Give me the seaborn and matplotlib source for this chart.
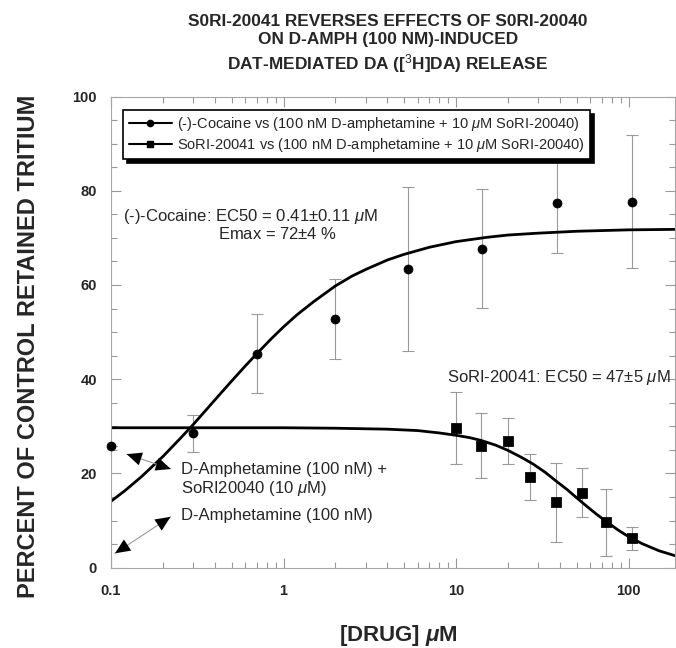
import numpy as np
import pandas as pd
import matplotlib.pyplot as plt
from matplotlib.lines import Line2D
from matplotlib.ticker import LogLocator, MultipleLocator, NullFormatter
import seaborn as sns

# Data points (uM, % of control retained tritium)
coc_x = [0.1, 0.3, 0.7, 2.0, 5.3, 14.2, 38.6, 104.9]
coc_y = [25.9, 28.5, 45.4, 52.7, 63.3, 67.7, 77.3, 77.7]
coc_err = [0.0, 4.0, 8.4, 8.5, 17.4, 12.6, 10.6, 14.2]

sori_x = [10.0, 14.0, 20.0, 27.0, 37.8, 53.7, 74.5, 104.5]
sori_y = [29.7, 25.9, 26.9, 19.3, 13.9, 15.9, 9.6, 6.2]
sori_err = [7.6, 6.9, 4.9, 4.9, 8.4, 5.2, 7.2, 2.5]

# Fitted curves
coc_fit_x = [0.1, 0.12, 0.15, 0.2, 0.25, 0.3, 0.4, 0.5, 0.6, 0.7, 0.85, 1.0, 1.2, 1.5,
             2.0, 2.5, 3.0, 4.0, 5.0, 7.0, 10, 15, 20, 30, 50, 100, 186]
coc_fit_y = [14.1, 16.3, 19.3, 23.6, 27.3, 30.4, 35.6, 39.6, 42.8, 45.4, 48.6, 51.1, 53.7, 56.5,
             59.8, 61.9, 63.3, 65.3, 66.5, 68.0, 69.2, 70.1, 70.6, 71.0, 71.4, 71.7, 71.8]

sori_fit_x = [0.1, 1, 2, 4, 6, 8, 10, 12, 14, 17, 20, 24, 28, 33, 38, 44, 50, 57, 65, 75,
              87, 100, 120, 150, 186]
sori_fit_y = [29.7, 29.7, 29.6, 29.4, 29.1, 28.6, 28.1, 27.6, 27.0, 26.0, 24.9, 23.4, 22.0,
              20.2, 18.4, 16.6, 14.85, 13.1, 11.4, 9.7, 8.0, 6.6, 5.1, 3.6, 2.55]

legend_labels = [r'(-)-Cocaine vs (100 nM D-amphetamine + 10 $\mu$M SoRI-20040)',
                 r'SoRI-20041 vs (100 nM D-amphetamine + 10 $\mu$M SoRI-20040)']
title_lines = ['S0RI-20041 REVERSES EFFECTS OF S0RI-20040',
               'ON D-AMPH (100 NM)-INDUCED',
               r'DAT-MEDIATED DA ([$^{3}$H]DA) RELEASE']

sns.set_theme(style='ticks')
plt.rcParams['font.family'] = ['Liberation Sans', 'DejaVu Sans']
plt.rcParams['mathtext.fontset'] = 'custom'
plt.rcParams['mathtext.rm'] = 'Liberation Sans'
plt.rcParams['mathtext.it'] = 'Liberation Sans:italic'
plt.rcParams['mathtext.bf'] = 'Liberation Sans:bold'
plt.rcParams['mathtext.bfit'] = 'Liberation Sans:bold:italic'

coc_fit = pd.DataFrame({'x': coc_fit_x, 'y': coc_fit_y})
sori_fit = pd.DataFrame({'x': sori_fit_x, 'y': sori_fit_y})
coc = pd.DataFrame({'x': coc_x, 'y': coc_y, 'err': coc_err})
sori = pd.DataFrame({'x': sori_x, 'y': sori_y, 'err': sori_err})

fig = plt.figure(figsize=(6.76, 6.48), dpi=100)
ax = fig.add_axes([111 / 676, 1 - 567.7 / 648, 564 / 676, 471.2 / 648])

# error bars
ax.errorbar(coc['x'], coc['y'], yerr=coc['err'], fmt='none', ecolor='0.6',
            elinewidth=0.8, capsize=4, capthick=0.8, zorder=1)
ax.errorbar(sori['x'], sori['y'], yerr=sori['err'], fmt='none', ecolor='0.6',
            elinewidth=0.8, capsize=4, capthick=0.8, zorder=1)

# fitted curves
sns.lineplot(data=coc_fit, x='x', y='y', color='black', lw=2.0, estimator=None,
             sort=False, ax=ax, zorder=2)
sns.lineplot(data=sori_fit, x='x', y='y', color='black', lw=2.0, estimator=None,
             sort=False, ax=ax, zorder=2)

# points
sns.scatterplot(data=coc, x='x', y='y', marker='o', s=42, color='black',
                edgecolor='black', ax=ax, zorder=3, clip_on=False)
sns.scatterplot(data=sori, x='x', y='y', marker='s', s=48, color='black',
                edgecolor='black', ax=ax, zorder=3, clip_on=False)

ax.set_xscale('log')
ax.set_xlim(0.1, 186)
ax.set_ylim(0, 100)
ax.xaxis.set_major_locator(LogLocator(base=10))
ax.xaxis.set_minor_locator(LogLocator(base=10, subs=np.arange(2, 10)))
ax.xaxis.set_minor_formatter(NullFormatter())
ax.set_xticks([0.1, 1, 10, 100])
ax.set_xticklabels(['0.1', '1', '10', '100'])
ax.yaxis.set_major_locator(MultipleLocator(20))
ax.yaxis.set_minor_locator(MultipleLocator(5))

for lab in ax.get_xticklabels() + ax.get_yticklabels():
    lab.set_fontweight('bold')
    lab.set_fontsize(10.5)

ax.tick_params(which='both', direction='in', top=True, right=True, color='0.6', width=0.8)
ax.tick_params(which='major', length=7)
ax.tick_params(which='minor', length=4)
ax.tick_params(axis='x', which='major', pad=12)
ax.tick_params(axis='y', which='major', pad=10)
for sp in ax.spines.values():
    sp.set_color('0.65')
    sp.set_linewidth(0.8)

ax.set_xlabel(r'[DRUG] $\mathbfit{\mu}$M', fontsize=16, fontweight='bold', va='center')
ax.xaxis.set_label_coords(0.51, -0.143)
ax.set_ylabel('PERCENT OF CONTROL RETAINED TRITIUM', fontsize=17, fontweight='bold',
              va='center')
ax.yaxis.set_label_coords(-0.146, 0.47)

# title
fig.text(388 / 676, 1 - 22.0 / 648, title_lines[0], ha='center', va='center',
         fontsize=12.4, fontweight='bold')
fig.text(388 / 676, 1 - 39.3 / 648, title_lines[1], ha='center', va='center',
         fontsize=12.4, fontweight='bold')
fig.text(388 / 676, 1 - 63.3 / 648, title_lines[2], ha='center', va='center',
         fontsize=12.4, fontweight='bold')

# annotations
ax.text(0.1173, 74.5, r'(-)-Cocaine: EC50 = 0.41$\pm$0.11 $\mu$M', fontsize=12, va='center')
ax.text(0.419, 70.9, r'Emax = 72$\pm$4 %', fontsize=12, va='center')
ax.text(176, 40.3, r'SoRI-20041: EC50 = 47$\pm$5 $\mu$M', fontsize=12, va='center', ha='right')

ax.text(0.254, 20.9, 'D-Amphetamine (100 nM) +', fontsize=12, va='center')
ax.text(0.254, 16.9, r'SoRI20040 (10 $\mu$M)', fontsize=12, va='center')
ax.text(0.254, 11.0, 'D-Amphetamine (100 nM)', fontsize=12, va='center')

# thin grey connector with solid black heads at both ends
line = dict(arrowstyle='-', color='0.6', lw=0.8, shrinkA=0, shrinkB=0)
heads = dict(arrowstyle='<|-|>,head_length=0.9,head_width=0.4', fc='black', ec='none',
             lw=0, shrinkA=0, shrinkB=0)
arrow_ends = [((0.1233, 24.1), (0.2223, 20.95)), ((0.1055, 3.06), (0.2215, 10.8))]
for a, b in arrow_ends:
    ax.annotate('', xy=a, xytext=b, arrowprops=line)
    ax.annotate('', xy=a, xytext=b, arrowprops=heads)

# legend
handles = [Line2D([], [], color='black', lw=1.5, marker='o', markersize=4.5),
           Line2D([], [], color='black', lw=1.5, marker='s', markersize=4.5)]
leg = ax.legend(handles, legend_labels, loc='upper left', bbox_to_anchor=(0.022, 0.971),
                borderaxespad=0, fontsize=10.5, handlelength=3.0, handletextpad=0.35,
                labelspacing=0.2, borderpad=0.35, fancybox=False, framealpha=1,
                edgecolor='black', shadow={'color': 'black', 'alpha': 1, 'ox': 2.5, 'oy': -2.5})
leg.get_frame().set_linewidth(1.2)
leg.set_zorder(10)

fig.savefig('out.png', dpi=100)
